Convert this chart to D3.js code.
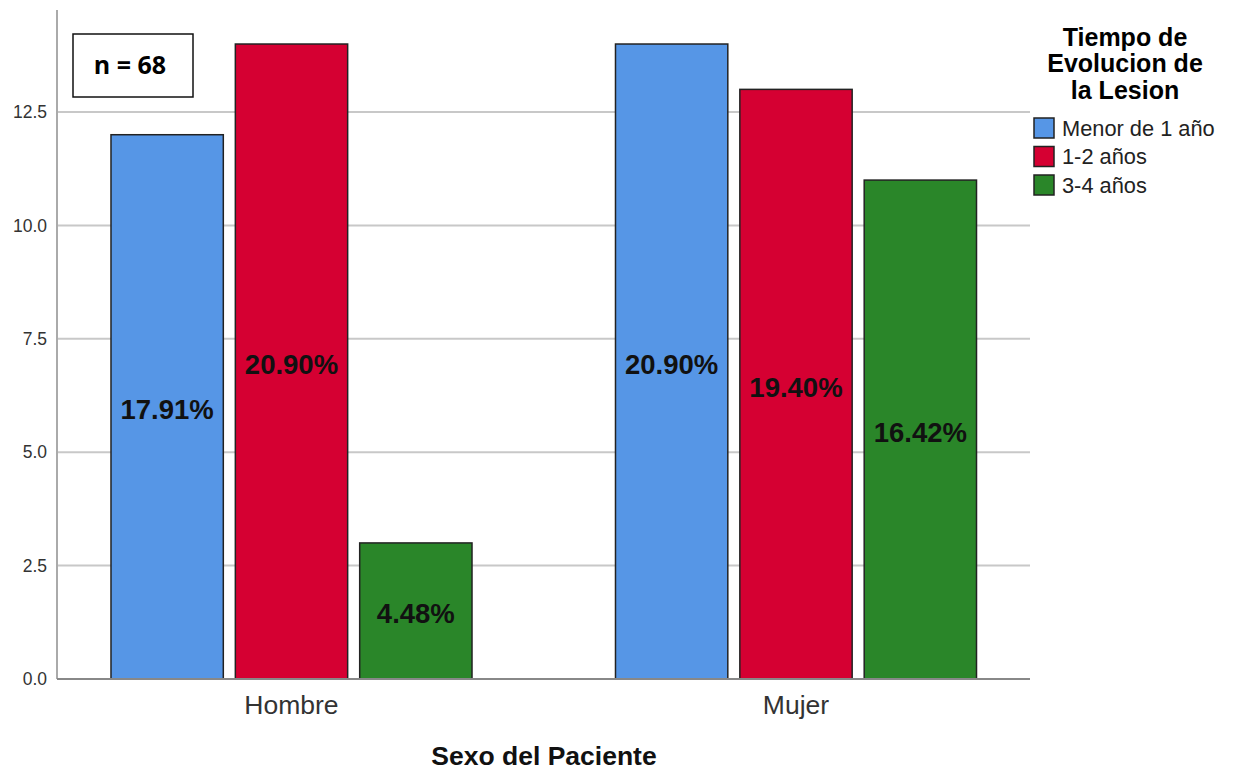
<!DOCTYPE html>
<html>
<head>
<meta charset="utf-8">
<script src="https://cdn.jsdelivr.net/npm/d3@7"></script>
<style>
  body { margin: 0; background: #fff; }
  svg { display: block; font-family: "Liberation Sans", Arial, sans-serif; }
</style>
</head>
<body>
<div id="chart"></div>
<script>
// data
var categories = ["Hombre", "Mujer"];
var seriesNames = ["Menor de 1 año", "1-2 años", "3-4 años"];
var hombreCounts = [12, 14, 3];
var mujerCounts = [14, 13, 11];
var hombreLabels = ["17.91%", "20.90%", "4.48%"];
var mujerLabels = ["20.90%", "19.40%", "16.42%"];
var yTicks = [0, 2.5, 5, 7.5, 10, 12.5];
var colors = ["#5696e6", "#d50032", "#2a8629"];

var width = 1235, height = 772;
var plot = {left: 57, right: 1030, top: 10, bottom: 679};

var rows = [
    {cat: "Hombre", values: hombreCounts, labels: hombreLabels},
    {cat: "Mujer", values: mujerCounts, labels: mujerLabels}
];

var svg = d3.select("#chart").append("svg")
    .attr("width", width)
    .attr("height", height);

var y = d3.scaleLinear()
    .domain([0, 14.75])
    .range([plot.bottom, plot.top]);

var x0 = d3.scaleBand()
    .domain(categories)
    .range([39.25, 1048.25])
    .paddingInner(0.2844)
    .paddingOuter(0.1422);

var x1 = d3.scaleBand()
    .domain(seriesNames)
    .range([0, x0.bandwidth()])
    .paddingInner(0.0968)
    .paddingOuter(0);

// grid lines
svg.append("g")
    .selectAll("line")
    .data(yTicks.filter(function(d) { return d > 0; }))
    .enter()
    .append("line")
    .attr("x1", plot.left)
    .attr("x2", plot.right)
    .attr("y1", function(d) { return y(d); })
    .attr("y2", function(d) { return y(d); })
    .attr("stroke", "#c8c8c8")
    .attr("stroke-width", 2);

// y axis
var yAxis = svg.append("g")
    .attr("transform", "translate(" + plot.left + ",0)")
    .call(d3.axisLeft(y).tickValues(yTicks).tickFormat(d3.format(".1f")).tickSize(0).tickPadding(10));
yAxis.select(".domain").remove();
yAxis.selectAll("text")
    .attr("font-size", 17.5)
    .attr("font-family", "Liberation Sans, Arial, sans-serif")
    .attr("fill", "#333");

// bars
var groups = svg.append("g")
    .selectAll("g")
    .data(rows)
    .enter()
    .append("g")
    .attr("transform", function(d) { return "translate(" + x0(d.cat) + ",0)"; });

var bars = groups.selectAll("g")
    .data(function(d) {
        return d.values.map(function(v, i) {
            return {series: seriesNames[i], value: v, label: d.labels[i], idx: i};
        });
    })
    .enter()
    .append("g");

bars.append("rect")
    .attr("x", function(d) { return x1(d.series); })
    .attr("y", function(d) { return y(d.value); })
    .attr("width", x1.bandwidth())
    .attr("height", function(d) { return y(0) - y(d.value); })
    .attr("fill", function(d) { return colors[d.idx]; })
    .attr("stroke", "#222")
    .attr("stroke-width", 1.5);

bars.append("text")
    .text(function(d) { return d.label; })
    .attr("x", function(d) { return x1(d.series) + x1.bandwidth() / 2; })
    .attr("y", function(d) { return (y(d.value) + y(0)) / 2 + 3; })
    .attr("text-anchor", "middle")
    .attr("dominant-baseline", "central")
    .attr("font-size", 27.5)
    .attr("font-weight", "bold")
    .attr("fill", "#111");

// axis lines
svg.append("line")
    .attr("x1", plot.left).attr("x2", plot.left)
    .attr("y1", plot.top).attr("y2", plot.bottom)
    .attr("stroke", "#aaa").attr("stroke-width", 2);
svg.append("line")
    .attr("x1", plot.left).attr("x2", plot.right)
    .attr("y1", plot.bottom).attr("y2", plot.bottom)
    .attr("stroke", "#888").attr("stroke-width", 2);

// category labels
svg.append("g")
    .selectAll("text")
    .data(categories)
    .enter()
    .append("text")
    .text(function(d) { return d; })
    .attr("x", function(d) { return x0(d) + x0.bandwidth() / 2; })
    .attr("y", 714)
    .attr("text-anchor", "middle")
    .attr("font-size", 26.5)
    .attr("fill", "#333");

svg.append("text")
    .text("Sexo del Paciente")
    .attr("x", 544)
    .attr("y", 765)
    .attr("text-anchor", "middle")
    .attr("font-size", 26.5)
    .attr("font-weight", "bold")
    .attr("fill", "#111");

// n box
svg.append("rect")
    .attr("x", 73).attr("y", 34)
    .attr("width", 120).attr("height", 63)
    .attr("fill", "#fff")
    .attr("stroke", "#111")
    .attr("stroke-width", 1.5);
svg.append("text")
    .text("n = 68")
    .attr("x", 130).attr("y", 74)
    .attr("text-anchor", "middle")
    .attr("font-family", "Open Sans, sans-serif")
    .attr("font-size", 25)
    .attr("font-weight", "bold")
    .attr("fill", "#000");

// legend
var legend = svg.append("g");
legend.selectAll("text.title")
    .data(["Tiempo de", "Evolucion de", "la Lesion"])
    .enter()
    .append("text")
    .attr("class", "title")
    .text(function(d) { return d; })
    .attr("x", 1125)
    .attr("y", function(d, i) { return 45.5 + i * 26.5; })
    .attr("text-anchor", "middle")
    .attr("font-size", 25)
    .attr("font-weight", "bold")
    .attr("fill", "#000");

var items = legend.selectAll("g.item")
    .data(seriesNames)
    .enter()
    .append("g")
    .attr("class", "item")
    .attr("transform", function(d, i) { return "translate(1034," + (118 + i * 28.5) + ")"; });
items.append("rect")
    .attr("width", 20).attr("height", 20)
    .attr("fill", function(d, i) { return colors[i]; })
    .attr("stroke", "#222")
    .attr("stroke-width", 1.5);
items.append("text")
    .text(function(d) { return d; })
    .attr("x", 28)
    .attr("y", 17.5)
    .attr("font-size", 21.8)
    .attr("fill", "#222");
</script>
</body>
</html>
